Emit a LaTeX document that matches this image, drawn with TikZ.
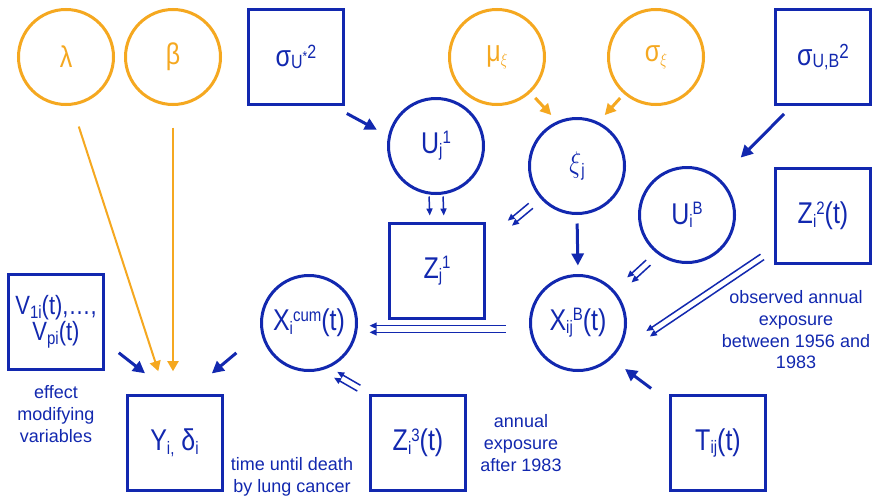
\documentclass[tikz,border=0pt]{standalone}
\usepackage{fontspec}
\usepackage{graphicx}
\setmainfont{Liberation Sans}
\usetikzlibrary{arrows.meta,calc}
\definecolor{bl}{RGB}{18,40,175}
\definecolor{og}{RGB}{245,168,32}
\newcommand\sbx[1]{\raisebox{-3pt}{\fontsize{15}{15}\selectfont #1}}
\newcommand\spx[1]{\raisebox{8pt}{\fontsize{15}{15}\selectfont #1}}
\newcommand\lb[1]{\scalebox{1}[1.2]{#1}}
\newcommand\dbl[5]{%
  \draw[dbla,transform canvas={shift={(#3)}},#5] #1 -- #2;
  \draw[dbla,transform canvas={shift={(#4)}},#5] #1 -- #2;}
\begin{document}
\begin{tikzpicture}[x=1pt,y=-1pt,
  nd/.style={draw,line width=3pt,inner sep=0pt,font=\fontsize{25}{29}\selectfont},
  circ/.style={nd,circle,minimum size=95pt},
  box/.style={nd,rectangle,minimum width=95pt,minimum height=95pt,align=center},
  bln/.style={draw=bl,text=bl},
  ogn/.style={draw=og,text=og},
  lbl/.style={align=center,inner sep=0pt,text=bl,font=\fontsize{18}{21.7}\selectfont},
  thk/.style={draw=bl,line width=3pt,-{Triangle[length=12pt,width=12pt]}},
  orth/.style={draw=og,line width=3pt,-{Triangle[length=11pt,width=11pt]}},
  orl/.style={draw=og,line width=2pt,-{Triangle[length=10pt,width=11pt]}},
  thn/.style={draw=bl,line width=1.5pt,-{Triangle[length=7pt,width=6pt]}},
  dbla/.style={draw=bl,line width=1.5pt,-{Triangle[length=7pt,width=6pt]}}
]
\fill[white] (0,0) rectangle (874,498);
\useasboundingbox (0,0) rectangle (874,498);

% nodes
\node[circ,ogn] (lam) at (66,57) {\lb{λ}};
\node[circ,ogn] (beta) at (173,57) {\lb{β}};
\node[box,bln] (sigU) at (296,57) {\lb{σ\raisebox{-2pt}{\fontsize{16}{16}\selectfont U}\raisebox{4pt}{\fontsize{12}{12}\selectfont *}\raisebox{6pt}{\fontsize{16}{16}\selectfont 2}}};
\node[circ,bln] (Uj1) at (436,146) {\lb{U\sbx{j}\spx{1}}};
\node[box,bln] (Zj1) at (437,271) {\lb{Z\sbx{j}\spx{1}}};
\node[circ,ogn] (mux) at (497,57) {\lb{μ\sbx{$\xi$}}};
\node[circ,ogn] (sxi) at (656,57) {\lb{σ\sbx{$\xi$}}};
\node[circ,bln] (xij) at (577,166) {\lb{$\xi$\sbx{j}}};
\node[box,bln] (sigUB) at (823,57) {\lb{σ\raisebox{-2pt}{\fontsize{16}{16}\selectfont U,B}\raisebox{6pt}{\fontsize{17}{17}\selectfont 2}}};
\node[circ,bln] (UiB) at (687,215) {\lb{U\sbx{i}\spx{B}}};
\node[box,bln] (Zi2) at (823,216) {\lb{Z\sbx{i}\spx{2}(t)}};
\node[circ,bln] (Xij) at (578,323) {\lb{X\sbx{ij}\spx{B}(t)}};
\node[circ,bln] (Xcum) at (309,323) {\lb{X\sbx{i}\spx{cum}(t)}};
\node[box,bln,font=\fontsize{22}{26}\selectfont] (V) at (56,322) {\lb{V\sbx{1i}(t),…,}\\\lb{V\sbx{pi}(t)}};
\node[box,bln] (Y) at (174.5,443) {\lb{Y\sbx{i,} δ\sbx{i}}};
\node[box,bln] (Zi3) at (418,443) {\lb{Z\sbx{i}\spx{3}(t)}};
\node[box,bln] (Tij) at (718,443) {\lb{T\sbx{ij}(t)}};

% labels
\node[lbl] (effect) at (56,414) {effect\\modifying\\variables};
\node[lbl] (death) at (292,477) {time until death\\by lung cancer};
\node[lbl] (after) at (521,443) {annual\\exposure\\after 1983};
\node[lbl] (obs) at (796,330) {observed annual\\exposure\\between 1956 and\\1983};

% arrows
\draw[thk,shorten <=15.7pt,shorten >=12.75pt] ([xshift=-12pt]sigU.south east) -- (Uj1.168);
\draw[orth,shorten <=7pt,shorten >=8.5pt] (mux.-47) -- (xij.114);
\draw[orth,shorten <=5.5pt,shorten >=9.3pt] (sxi.229) -- (xij.64);
\draw[thk,shorten <=11.3pt,shorten >=29.6pt] ([xshift=-31pt]sigUB.south) -- (UiB.48);
\draw[thn,shorten <=1.5pt,shorten >=6.5pt] ([xshift=-7pt]Uj1.south) -- ([xshift=-7pt]Zj1.north);
\draw[thn,shorten <=1.5pt,shorten >=6.5pt] ([xshift=7pt]Uj1.south) -- ([xshift=7pt]Zj1.north);
\dbl{(xij.221)}{([yshift=-21pt]Zj1.north east)}{2.1,2.5}{-2.1,-2.5}{shorten <=12pt,shorten >=31pt}
\draw[thk,shorten <=8.5pt,shorten >=8.5pt] (xij.south) -- (Xij.north);
\dbl{(UiB.233)}{(Xij.39)}{2.2,2.5}{-2.2,-2.5}{shorten <=12.5pt,shorten >=18pt}
\dbl{([yshift=16pt]Zi2.south west)}{(Xij.-45)}{1.8,2.7}{-1.8,-2.7}{shorten <=14.1pt,shorten >=42.7pt}
\dbl{([yshift=-6pt]Xij.west)}{([yshift=-6pt]Xcum.east)}{0,3.3}{0,-3.3}{shorten <=23.5pt,shorten >=11.5pt}
\dbl{(Zi3.north west)}{(Xcum.-70)}{-1.6,2.9}{1.6,-2.9}{shorten <=11.7pt,shorten >=11.4pt}
\draw[thk,shorten <=22.3pt,shorten >=17pt] ([yshift=-7.75pt]Tij.north west) -- (Xij.-47);
\draw[thk,shorten <=17.5pt,shorten >=33.6pt] ([yshift=-20pt]V.east) -- ([xshift=-3pt]Y.north);
\draw[orl,shorten <=22pt,shorten >=24pt] (lam.-83) -- ([xshift=-8.8pt]Y.north);
\draw[orl,shorten <=21.5pt,shorten >=22.8pt] (beta.south) -- (beta.south |- Y.north);
\draw[thk,shorten <=32pt,shorten >=32.1pt] (Xcum.191) -- ([xshift=12.7pt]Y.north);
\end{tikzpicture}
\end{document}
